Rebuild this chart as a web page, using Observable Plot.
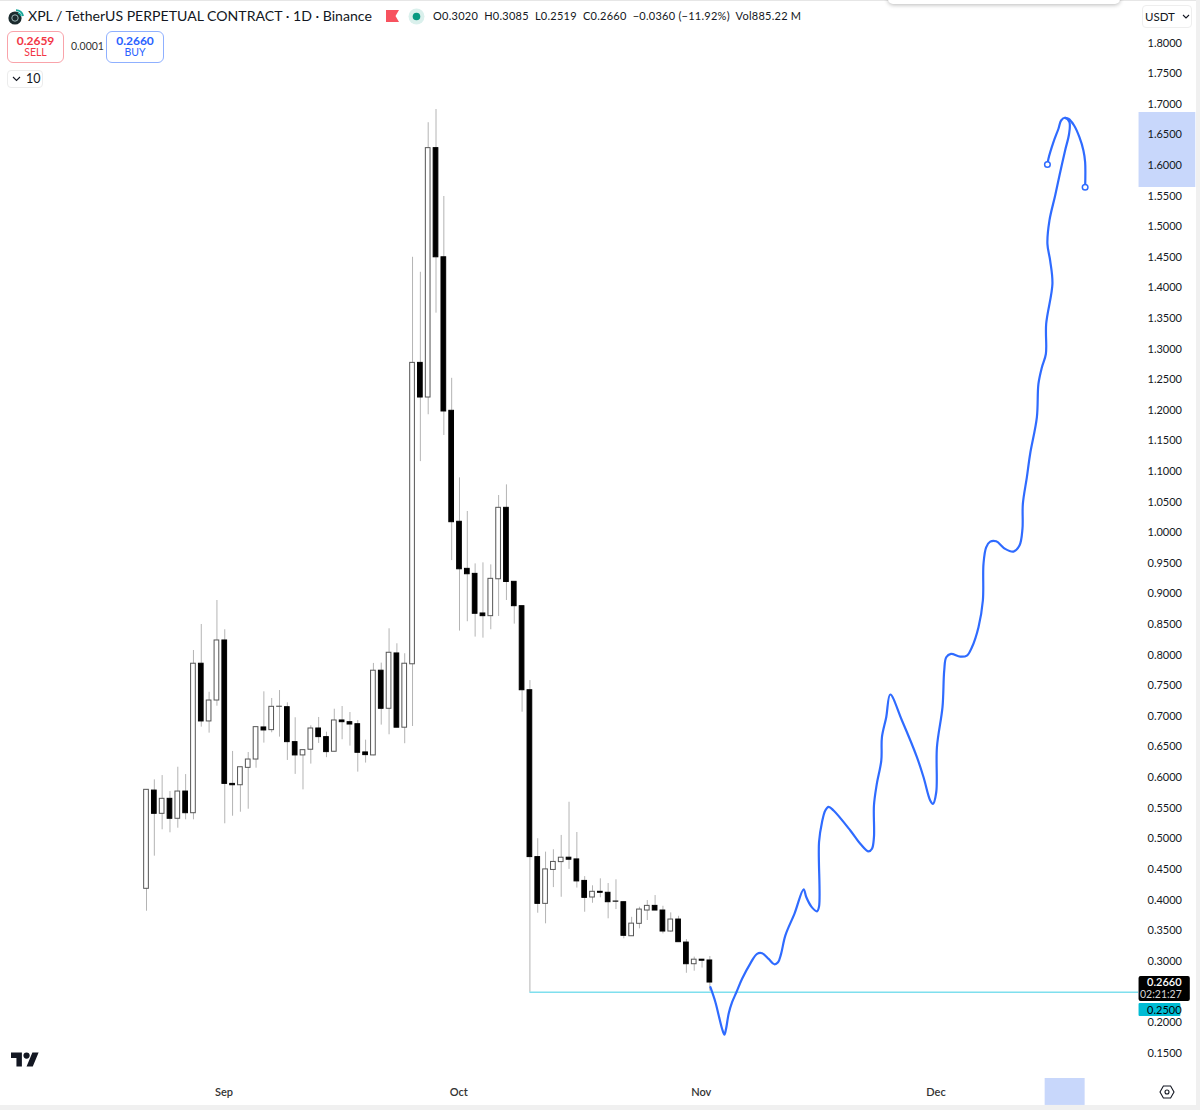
<!DOCTYPE html>
<html>
<head>
<meta charset="utf-8">
<script src="https://cdn.jsdelivr.net/npm/d3@7"></script>
<script src="https://cdn.jsdelivr.net/npm/@observablehq/plot@0.6"></script>
<style>
  html, body { margin:0; padding:0; background:#fff; }
  body { font-family: Lato, "Open Sans", sans-serif; color:#131722; }
  #wrap { position:relative; width:1200px; height:1110px; overflow:hidden; }
  #chart svg { display:block; }
  .ov { position:absolute; white-space:nowrap; line-height:1; }
  .btn { position:absolute; box-sizing:border-box; border:1px solid; border-radius:6px; background:#fff; text-align:center; }
  .btn b { display:block; font-size:12px; font-weight:700; margin-top:2px; line-height:13px; }
  .btn span { display:block; font-size:10.5px; line-height:11px; }
</style>
</head>
<body>
<div id="wrap">
  <div id="chart"></div>

  <!-- frame -->
  <div class="ov" style="left:0;top:0;width:1200px;height:1px;background:#e6e6e6"></div>
  <div class="ov" style="left:1196px;top:0;width:4px;height:1110px;background:#f0f0f0"></div>
  <div class="ov" style="left:0;top:1105px;width:1200px;height:5px;background:#f0f0f0"></div>
  <div class="ov" style="left:888px;top:-8px;width:232px;height:12px;background:#fff;border-radius:5px;box-shadow:0 1px 4px rgba(0,0,0,.28)"></div>

  <!-- symbol header -->
  <svg class="ov" style="left:7px;top:7px" width="19" height="19" viewBox="0 0 19 19">
    <circle cx="8" cy="11" r="6.6" fill="#1b2b2e"/>
    <circle cx="8" cy="11" r="3.2" fill="none" stroke="#9fb6b8" stroke-width="1"/>
    <path d="M9 3.2 A7 7 0 0 1 16 9" fill="none" stroke="#1aa79a" stroke-width="2"/>
    <path d="M11 6 A4 4 0 0 1 14 9" fill="none" stroke="#1aa79a" stroke-width="1.6"/>
  </svg>
  <div class="ov" id="title" style="left:28px;top:9px;font-size:14.1px">XPL / TetherUS PERPETUAL CONTRACT · 1D · Binance</div>
  <svg class="ov" style="left:386px;top:10px" width="13" height="12" viewBox="0 0 13 12"><path d="M0 0H13L9.5 6L13 12H0Z" fill="#f7525f"/></svg>
  <svg class="ov" style="left:408px;top:8px" width="17" height="17" viewBox="0 0 17 17"><circle cx="8.5" cy="8.5" r="8" fill="#daf0ec"/><circle cx="8.5" cy="8.5" r="3.8" fill="#089981"/></svg>
  <div class="ov" id="ohlc" style="left:433px;top:10px;font-size:11px;letter-spacing:.25px">O0.3020 &nbsp;H0.3085 &nbsp;L0.2519 &nbsp;C0.2660 &nbsp;−0.0360 (−11.92%) &nbsp;Vol885.22 M</div>

  <!-- order buttons -->
  <div class="btn" style="left:7px;top:31px;width:57px;height:32px;border-color:#f9a3aa;color:#f23645"><b>0.2659</b><span>SELL</span></div>
  <div class="ov" style="left:71px;top:41px;font-size:10.5px;color:#333">0.0001</div>
  <div class="btn" style="left:106px;top:31px;width:58px;height:32px;border-color:#8fb0ff;color:#2962ff"><b>0.2660</b><span>BUY</span></div>
  <div class="btn" style="left:7px;top:70px;width:36px;height:18px;border-color:#ececec;border-radius:4px;"></div>
  <svg class="ov" style="left:12px;top:76px" width="9" height="6" viewBox="0 0 9 6"><path d="M1 1L4.5 4.5L8 1" fill="none" stroke="#131722" stroke-width="1.1"/></svg>
  <div class="ov" style="left:26px;top:73px;font-size:12.5px">10</div>

  <!-- currency selector -->
  <div class="btn" style="left:1142px;top:5px;width:50px;height:23px;border-color:#eeeeee;border-radius:4px"></div>
  <div class="ov" style="left:1145px;top:11px;font-size:11.5px">USDT</div>
  <svg class="ov" style="left:1182px;top:14px" width="8" height="5" viewBox="0 0 8 5"><path d="M1 1L4 4L7 1" fill="none" stroke="#131722" stroke-width="1.1"/></svg>

  <!-- TradingView mark -->
  <svg class="ov" style="left:11px;top:1052px" width="28" height="15" viewBox="0 4 36 18">
    <path d="M14 22H7V11H0V4h14v18zM28 22h-8l7.5-18h8L28 22z" fill="#131722"/><circle cx="20" cy="8" r="4" fill="#131722"/>
  </svg>
  <!-- settings -->
  <svg class="ov" style="left:1159px;top:1084px" width="16" height="16" viewBox="0 0 16 16">
    <path d="M4.4 2H11.6L15 8L11.6 14H4.4L1 8Z" fill="none" stroke="#131722" stroke-width="1.1"/><circle cx="8" cy="8" r="2" fill="none" stroke="#131722" stroke-width="1.1"/>
  </svg>
</div>

<script>
// ---------- data ----------
const firstDay = -10;   // days after 1 Sep of the first candle
const opens = [.4191,.5796,.5416,.5661,.5335,.5780,.5426,.7868,.6925,.7267,.8248,.5905,.5883,.6167,.6303,.6827,.6783,.7164,.7158,.6587,.6370,.6463,.6810,.6669,.6430,.6941,.6913,.6880,.6419,.6370,.7754,.7132,.8036,.6823,.7859,1.2783,1.2217,1.6291,1.4508,1.2000,1.0187,.9418,.9336,.8689,.8645,.9248,1.0415,.9206,.8808,.7435,.4709,.3945,.4499,.4627,.4699,.4671,.4320,.4049,.4142,.4126,.3983,.3972,.3416,.3619,.3836,.3912,.3836,.3493,.3689,.3313,.2959,.3033,.3020];
const closes = [.5808,.5416,.5661,.5335,.5780,.5426,.7868,.6925,.7267,.8248,.5905,.5883,.6177,.6303,.6832,.6778,.7164,.7166,.6587,.6370,.6456,.6810,.6669,.6424,.6941,.6913,.6875,.6413,.6375,.7754,.7132,.8047,.6823,.7868,1.2783,1.2217,1.6291,1.4508,1.1989,1.0180,.9411,.9330,.8684,.8645,.9255,1.0415,.9203,.8808,.7435,.4709,.3945,.4508,.4630,.4699,.4666,.4312,.4043,.4142,.4126,.3972,.3981,.3423,.3622,.3852,.3912,.3836,.3493,.3689,.3319,.2959,.3033,.3016,.2660];
const highs = [.5808,.5971,.6041,.5780,.6177,.6057,.8084,.8509,.7402,.8901,.8423,.6435,.6177,.6418,.6832,.7409,.7300,.7430,.7229,.6985,.6463,.6854,.6990,.6750,.7125,.7169,.7071,.6941,.6620,.7873,.7878,.8439,.8194,.8031,1.4508,1.4263,1.6706,1.6922,1.5501,1.2531,1.0904,1.0355,.9499,.9516,.9483,1.0616,1.0790,.9206,.8808,.7593,.5009,.4790,.4829,.5063,.5605,.5111,.4390,.4240,.4354,.4277,.4338,.3978,.3725,.3890,.3999,.4081,.3906,.3798,.3742,.3362,.3075,.3037,.3085];
const lows = [.3825,.4724,.5155,.5106,.5181,.5318,.5318,.6832,.6734,.7174,.5253,.5377,.5442,.5491,.6161,.6571,.6740,.6669,.6288,.6060,.5807,.6228,.6566,.6333,.6424,.6626,.6522,.6097,.6245,.6365,.6865,.6707,.6823,.6561,.6843,1.1170,1.1935,1.3595,1.1597,.9553,.8401,.8554,.8303,.8286,.8423,.8640,.8901,.8515,.7076,.2500,.3792,.3619,.4211,.4053,.4508,.4203,.3808,.3955,.4044,.3701,.3852,.3374,.3416,.3537,.3673,.3836,.3455,.3482,.3319,.2811,.2845,.2896,.2519];

// hand-drawn brush: [day, price]
const brushMain = [[62.07,.2583],[62.71,.2338],[63.13,.2121],[63.56,.1905],[63.86,.1807],[64.07,.1905],[64.40,.2149],[64.84,.2338],[65.39,.2501],[66.12,.2720],[67.18,.2974],[68.03,.3128],[68.67,.3138],[69.51,.3046],[70.24,.2958],[70.71,.2991],[71.10,.3128],[71.64,.3427],[72.83,.3791],[73.98,.4183],[74.33,.4052],[74.97,.3900],[75.69,.3823],[75.95,.3900],[75.95,.4953],[76.33,.5279],[76.75,.5470],[77.17,.5530],[77.81,.5470],[79.95,.5144],[81.22,.4927],[82.28,.4801],[82.72,.4845],[82.97,.5034],[82.97,.5552],[83.32,.5894],[83.91,.6289],[83.99,.6669],[84.54,.6995],[85.05,.7365],[86.55,.6941],[88.46,.6343],[89.31,.6013],[90.16,.5633],[90.51,.5579],[90.93,.5768],[91.02,.6506],[91.73,.7158],[91.95,.7756],[92.21,.7973],[92.81,.8029],[93.99,.7985],[94.85,.8001],[95.49,.8137],[96.33,.8465],[96.89,.8901],[96.97,.9499],[97.31,.9770],[97.83,.9863],[98.59,.9868],[99.74,.9744],[100.80,.9700],[101.57,.9798],[101.95,1.0071],[102.00,1.0479],[102.51,1.0913],[102.93,1.1295],[103.79,1.1893],[103.99,1.2438],[104.43,1.2709],[104.94,1.2928],[104.98,1.3418],[105.78,1.4075],[105.49,1.4454],[105.14,1.4727],[105.40,1.5110],[106.13,1.5518],[106.68,1.5844],[107.40,1.6254],[107.91,1.6526],[107.95,1.6715],[107.40,1.6787],[106.89,1.6743],[106.55,1.6608],[105.91,1.6390],[105.27,1.6119],[105.14,1.6025]];
const brushTail = [[107.40,1.6787],[107.82,1.6771],[108.55,1.6661],[109.23,1.6470],[109.74,1.6254],[109.96,1.6063],[109.96,1.5651]];
const handles = [[105.14,1.6025],[109.96,1.5651]];

const yTicks = [.15,.2,.25,.3,.35,.4,.45,.5,.55,.6,.65,.7,.75,.8,.85,.9,.95,1,1.05,1.1,1.15,1.2,1.25,1.3,1.35,1.4,1.45,1.5,1.55,1.6,1.65,1.7,1.75,1.8].filter(v => v !== .25);
const monthDays = [0, 30, 61, 91];
const monthLabels = ["Sep", "Oct", "Nov", "Dec"];

const support = {from: 39, to: 116.78, price: .25};
const bodyHalf = 0.3;

const candles = opens.map((o, i) => ({
  day: firstDay + i, open: o, close: closes[i], high: highs[i], low: lows[i], up: closes[i] > o
}));
const FONT = 'Lato, "Open Sans", sans-serif';
const INK = "#131722";
const BLUE = "#2f6bff";
const HILITE = "#c8d7fb";
const tagX = 116.85;
const labelX = 117.87;

const chart = Plot.plot({
  width: 1200, height: 1110,
  marginTop: 0, marginLeft: 0, marginRight: 62, marginBottom: 32,
  style: {fontFamily: FONT, background: "transparent", overflow: "visible", color: INK},
  x: {domain: [-28.66, 116.78], label: null},
  y: {domain: [1.8703, .1092].reverse(), label: null},
  marks: [
    // range highlights on the axes
    Plot.rect([{x1: tagX, x2: 124.1, y1: 1.5648, y2: 1.6873}], {x1: "x1", x2: "x2", y1: "y1", y2: "y2", fill: HILITE}),
    Plot.rect([{x1: 104.85, x2: 109.96, y1: .0652, y2: .1092}], {x1: "x1", x2: "x2", y1: "y1", y2: "y2", fill: HILITE}),

    Plot.axisY({anchor: "right", ticks: yTicks, tickSize: 0, tickPadding: 9, tickFormat: d3.format(".4f"), label: null, fontSize: 11, fill: INK, dy: -0.5}),
    Plot.axisX({anchor: "bottom", ticks: monthDays, tickSize: 0, tickPadding: 10, tickFormat: d => monthLabels[monthDays.indexOf(d)], label: null, fontSize: 11, fontWeight: 600, fill: "#333", dx: -0.8}),

    // wicks
    Plot.ruleX(candles, {x: "day", y1: "low", y2: "high", stroke: "#b4b4b4", strokeWidth: 1}),
    // bodies
    Plot.rect(candles, {
      x1: d => d.day - bodyHalf, x2: d => d.day + bodyHalf,
      y1: "open", y2: "close",
      fill: d => d.up ? "#fff" : "#000",
      stroke: d => d.up ? "#555" : "#000",
      strokeWidth: 1
    }),

    // horizontal level
    Plot.ruleY([support.price], {x1: support.from, x2: support.to, stroke: "#7fdfee", strokeWidth: 1.4}),

    // brush
    Plot.line(brushMain, {x: d => d[0], y: d => d[1], stroke: BLUE, strokeWidth: 2.2, curve: "catmull-rom"}),
    Plot.line(brushTail, {x: d => d[0], y: d => d[1], stroke: BLUE, strokeWidth: 2.2, curve: "catmull-rom"}),
    Plot.dot(handles, {x: d => d[0], y: d => d[1], r: 2.8, fill: "#fff", stroke: BLUE, strokeWidth: 1.5}),

    // price tags
    Plot.rect([{x2: 123.4, y1: .2349, y2: .2757}], {x1: tagX, x2: "x2", y1: "y1", y2: "y2", fill: "#000", rx: 2}),
    Plot.rect([{x2: 122.2, y1: .2104, y2: .2317}], {x1: tagX, x2: "x2", y1: "y1", y2: "y2", fill: "#00bcd4", rx: 1}),
    Plot.text(["0.2660"], {x: labelX, y: .2660, text: d => d, textAnchor: "start", fill: "#fff", fontSize: 11, fontWeight: 600}),
    Plot.text(["02:21:27"], {x: labelX - .9, y: .2660, dy: 12, text: d => d, textAnchor: "start", fill: "#d5d5d5", fontSize: 10.5}),
    Plot.text(["0.2500"], {x: labelX, y: .2210, text: d => d, textAnchor: "start", fill: "#000", fontSize: 11})
  ]
});
document.getElementById("chart").appendChild(chart);
</script>
</body>
</html>
